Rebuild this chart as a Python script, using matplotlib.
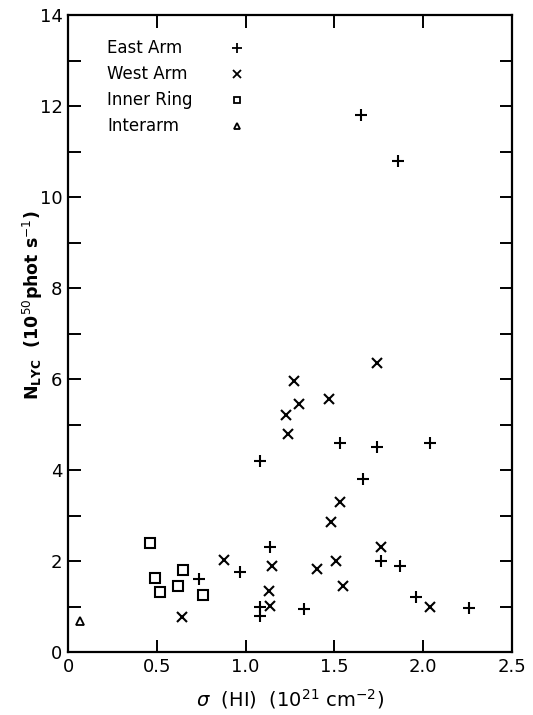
import matplotlib
matplotlib.use("Agg")
import matplotlib.pyplot as plt

plt.rcParams['font.family'] = ['DejaVu Sans']
plt.rcParams['mathtext.fontset'] = 'dejavusans'

# 东臂 (+)
east_x = [1.65, 1.86, 1.08, 1.53, 1.74, 2.04, 1.66, 1.14, 0.97, 0.74,
          1.08, 1.08, 1.33, 1.76, 1.87, 1.96, 2.26]
east_y = [11.8, 10.8, 4.2, 4.6, 4.5, 4.6, 3.8, 2.3, 1.75, 1.6,
          1.0, 0.8, 0.95, 2.0, 1.9, 1.2, 0.97]
# 西臂 (x)
west_x = [1.74, 1.27, 1.30, 1.47, 1.23, 1.24, 1.53, 1.48, 1.76, 1.51,
          1.40, 1.55, 2.04, 0.88, 1.15, 1.13, 1.14, 0.64]
west_y = [6.35, 5.95, 5.45, 5.55, 5.2, 4.8, 3.3, 2.85, 2.3, 2.0,
          1.83, 1.45, 1.0, 2.03, 1.9, 1.35, 1.02, 0.78]
# 内环 (方块)
ring_x = [0.46, 0.49, 0.52, 0.62, 0.65, 0.76]
ring_y = [2.4, 1.62, 1.32, 1.45, 1.8, 1.25]
# 臂间 (三角)
inter_x = [0.07]
inter_y = [0.68]

legend_labels = ['East Arm', 'West Arm', 'Inner Ring', 'Interarm']
x_ticks = [0, 0.5, 1.0, 1.5, 2.0, 2.5]
x_tick_labels = ['0', '0.5', '1.0', '1.5', '2.0', '2.5']
y_ticks = list(range(0, 15))
y_tick_labels = [str(v) if v % 2 == 0 else '' for v in y_ticks]

fig = plt.figure(figsize=(5.33, 7.15), dpi=100)
ax = fig.add_axes([68 / 533, 63 / 715, 444 / 533, 637 / 715])

ms_style = dict(linestyle='none', color='black', markerfacecolor='none')
ax.plot(east_x, east_y, marker='+', markersize=8, markeredgewidth=1.5, **ms_style)
ax.plot(west_x, west_y, marker='x', markersize=7, markeredgewidth=1.5, **ms_style)
ax.plot(ring_x, ring_y, marker='s', markersize=6.5, markeredgewidth=1.5, **ms_style)
ax.plot(inter_x, inter_y, marker='^', markersize=6, markeredgewidth=1.3, **ms_style)

# 手动画图例
legend_markers = [('+', 6.5), ('x', 5.5), ('s', 5), ('^', 5)]
row_y = [0.948, 0.907, 0.866, 0.826]
for lab, (mk, sz), yy in zip(legend_labels, legend_markers, row_y):
    ax.text(0.088, yy, lab, transform=ax.transAxes, fontsize=12,
            va='center', ha='left')
    ax.plot([0.38], [yy], transform=ax.transAxes, marker=mk, markersize=sz,
            markeredgewidth=1.3, **ms_style)

ax.set_xlim(0, 2.5)
ax.set_ylim(0, 14)
ax.set_xticks(x_ticks)
ax.set_xticklabels(x_tick_labels)
ax.set_yticks(y_ticks)
ax.set_yticklabels(y_tick_labels)
ax.tick_params(direction='in', length=9, width=1.4, labelsize=13,
               top=True, right=True, pad=4)

for sp in ax.spines.values():
    sp.set_linewidth(1.6)

ax.set_xlabel(r'$\sigma$  (HI)  (10$^{21}$ cm$^{-2}$)', fontsize=14, labelpad=8)
fig.text(33 / 533, 1 - 305 / 715, r'$\mathbf{N_{LYC}}$  (10$^{50}$phot s$^{-1}$)',
         rotation=90, fontsize=12.5, fontweight='bold', va='center', ha='center')

fig.savefig('out.png', dpi=100)
